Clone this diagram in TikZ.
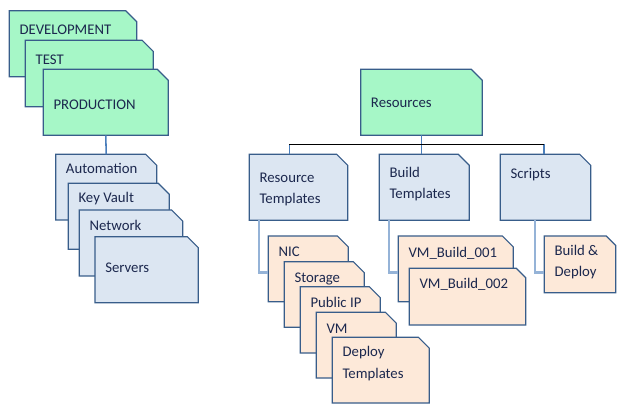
\documentclass[tikz,border=0pt]{standalone}
\usepackage{fontspec}
\setmainfont{Carlito}
\usetikzlibrary{calc,fit}

\definecolor{cardborder}{RGB}{56,93,138}
\definecolor{envgreen}{RGB}{166,247,199}
\definecolor{partblue}{RGB}{220,230,242}
\definecolor{filepeach}{RGB}{253,233,217}
\definecolor{stemblue}{RGB}{74,126,187}
\definecolor{leafblue}{RGB}{149,179,215}
\definecolor{cardink}{RGB}{28,40,78}

% name, fill, left, top, right, bottom, baseline (last line), text
\newcommand{\snipbox}[8]{%
  \pgfmathsetmacro\snipsz{min(#5-#3,#6-#4)/6}
  \filldraw[cardedge, fill=#2] (#3,#4) -- (#5-\snipsz,#4) -- (#5,#4+\snipsz) -- (#5,#6) -- (#3,#6) -- cycle;
  \node[fit={(#3,#4) (#5,#6)}, inner sep=0pt, outer sep=0pt] (#1) {};
  \node[cardtext] (#1-text) at (#3+10,#7) {#8};
}

\begin{document}
\begin{tikzpicture}[x=0.025cm, y=-0.025cm,
  cardedge/.style={draw=cardborder, line width=0.8pt},
  cardtext/.style={anchor=base west, inner sep=0pt, text=cardink, align=left,
    font=\fontsize{10.5}{15}\selectfont},
  stem/.style={draw=stemblue, line width=1.1pt},
  bus/.style={draw=black, line width=1pt},
  leaf/.style={draw=leafblue, line width=1.8pt}]
\useasboundingbox (0,0) rectangle (624,412);

% environments
\snipbox{dev}{envgreen}{9.3}{10.7}{136.7}{76.7}{34.7}{DEVELOPMENT}
\snipbox{test}{envgreen}{25.3}{40.3}{153.3}{106.7}{64.7}{TEST}
\snipbox{prod}{envgreen}{43.3}{69.3}{168.3}{135.3}{109.7}{PRODUCTION}

% parts
\snipbox{auto}{partblue}{55.7}{154.3}{156.7}{220}{174}{Automation}
\snipbox{vault}{partblue}{68.3}{183.3}{169.3}{249.3}{202.7}{Key Vault}
\snipbox{net}{partblue}{79.3}{210}{182.7}{276}{230.7}{Network}
\snipbox{srv}{partblue}{95}{236.7}{198.3}{302.7}{273}{Servers}

% resources
\snipbox{res}{envgreen}{360.7}{69.3}{482.3}{135.3}{108}{Resources}
\snipbox{rtpl}{partblue}{249.3}{154.3}{347.7}{220.3}{204}{Resource\\Templates}
\snipbox{btpl}{partblue}{379.3}{154.3}{469.3}{220.3}{199}{Build\\Templates}
\snipbox{scr}{partblue}{500.3}{154.3}{590.7}{220.3}{179}{Scripts}

% files
\snipbox{nic}{filepeach}{268.3}{236}{348.3}{301.7}{257}{NIC}
\snipbox{stor}{filepeach}{284.3}{261.7}{364.3}{327.3}{282.4}{Storage}
\snipbox{pip}{filepeach}{300.3}{286.7}{380.3}{353}{308}{Public IP}
\snipbox{vm}{filepeach}{316.3}{312.3}{396.3}{378}{333}{VM}
\snipbox{dpl}{filepeach}{332.3}{337.3}{429.3}{403}{378}{Deploy\\Templates}
\snipbox{vmb1}{filepeach}{398.3}{236}{513.3}{301.7}{257.4}{VM\_Build\_001}
\snipbox{vmb2}{filepeach}{409.3}{268.3}{525.7}{325}{288}{VM\_Build\_002}
\snipbox{bnd}{filepeach}{544.3}{236}{615.7}{292.7}{276.4}{Build \&\\Deploy}

% connectors
\draw[stem] (prod.south) -- (auto.north);
\coordinate (fork) at ($(res.south)+(0,9)$);
\coordinate (rdrop) at ($(rtpl.north west)+(40,0)$);
\coordinate (sdrop) at ($(scr.north west)+(43.7,0)$);
\draw[stem] (res.south) -- (fork |- btpl.north);
\draw[stem] (rdrop) -- (rdrop |- fork);
\draw[stem] (sdrop) -- (sdrop |- fork);
\draw[bus] (rdrop |- fork) -- (sdrop |- fork);
\draw[leaf] ($(rtpl.south west)+(9.7,0)$) |- ($(nic.north west)+(0,36.3)$);
\draw[leaf] ($(btpl.south west)+(9.7,0)$) |- ($(vmb1.north west)+(0,36.3)$);
\draw[leaf] ($(scr.south west)+(34.7,0)$) |- ($(bnd.north west)+(0,36.3)$);
\end{tikzpicture}
\end{document}
